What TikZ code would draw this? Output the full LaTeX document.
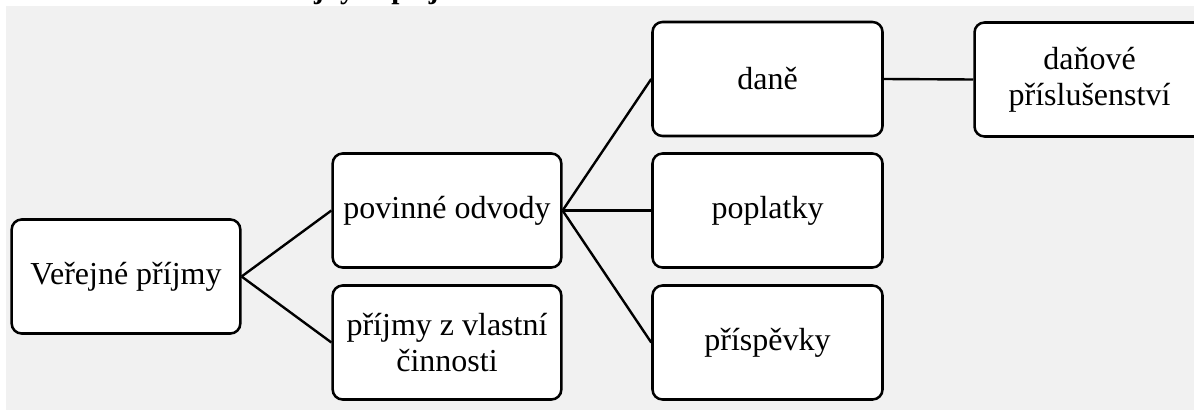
\documentclass[tikz,border=0pt]{standalone}
\usepackage{fontspec}
\setmainfont{Liberation Serif}
\definecolor{panelgray}{HTML}{F1F1F1}
\begin{document}
\begin{tikzpicture}[x=0.75pt,y=-0.75pt,
  box/.style={draw=black, line width=1.9pt, rounded corners=7.5pt, fill=white,
    minimum width=171.5pt, minimum height=85.5pt, inner sep=0pt, align=center,
    font=\fontsize{24}{27}\selectfont},
  link/.style={draw=black, line width=1.8pt}]
  \useasboundingbox (0,0) rectangle (1194,410);
  \clip (0,0) rectangle (1194,410);
  % page background and grey panel
  \fill[white] (0,0) rectangle (1194,410);
  \fill[panelgray] (6,6) rectangle (1194,410);
  % caption line above the panel, only its descenders reach into view
  \begin{scope}
    \clip (0,0) rectangle (1194,6);
    \node[anchor=base west, inner sep=0pt, font=\fontsize{22}{26}\selectfont\bfseries]
      (caption) at (260,-1) {veřejných příjmů};
  \end{scope}
  % boxes
  \node[box] (root)  at (126,276.5)   {Veřejné příjmy};
  \node[box] (odv)   at (447,210.5)   {povinné odvody};
  \node[box] (vlast) at (447,342.5)   {příjmy z vlastní\\činnosti};
  \node[box, minimum width=172.5pt] (dane)  at (767.5,79)    {daně};
  \node[box, minimum width=172.5pt] (popl)  at (767.5,210.5) {poplatky};
  \node[box, minimum width=172.5pt] (prisp) at (767.5,342.5) {příspěvky};
  \node[box, minimum width=172.5pt] (dprisl) at (1089.5,79.5) {daňové\\příslušenství};
  % connectors
  \draw[link] (root.east) -- (odv.west);
  \draw[link] (root.east) -- (vlast.west);
  \draw[link] (odv.east) -- (dane.west);
  \draw[link] (odv.east) -- (popl.west);
  \draw[link] (odv.east) -- (prisp.west);
  \draw[link] (dane.east) -- (dprisl.west);
\end{tikzpicture}
\end{document}
